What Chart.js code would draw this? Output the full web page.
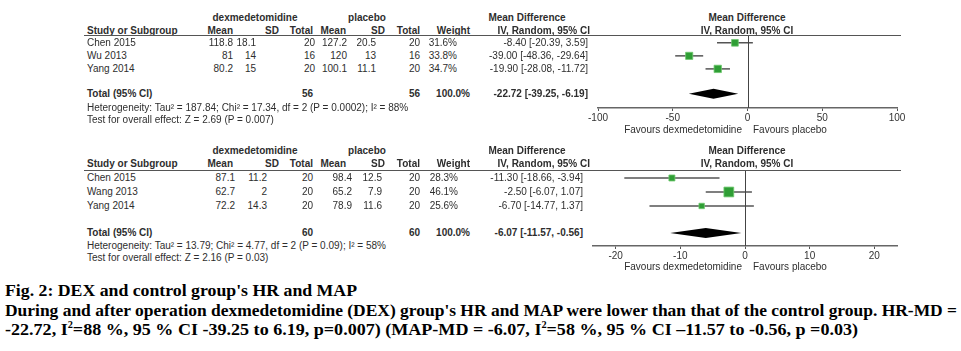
<!DOCTYPE html>
<html>
<head>
<meta charset="utf-8">
<script src="https://cdn.jsdelivr.net/npm/chart.js@4.4.1/dist/chart.umd.min.js"></script>
<style>
body{margin:0;background:#fff;width:961px;height:351px;position:relative;overflow:hidden;font-family:"Liberation Sans",Arial,sans-serif;color:#2e2e2e}
.t{position:absolute;font-size:10px;line-height:12px;white-space:nowrap}
.b{font-weight:bold}
.rule{position:absolute;height:1px;background:#555}
.cap{position:absolute;left:5px;font-family:"Liberation Serif","Times New Roman",serif;font-weight:bold;font-size:17.5px;line-height:18px;color:#000;white-space:nowrap;transform-origin:0 50%}
canvas{position:absolute}
</style>
</head>
<body>
<canvas id="hr" width="325" height="100"></canvas>
<canvas id="map" width="325" height="100"></canvas>
<div class="cap" id="c1">Fig. 2: DEX and control group's HR and MAP</div>
<div class="cap" id="c2">During and after operation dexmedetomidine (DEX) group's HR and MAP were lower than that of the control group. HR-MD =</div>
<div class="cap" id="c3">-22.72, I<sup style="font-size:10px;line-height:0">2</sup>=88 %, 95 % CI -39.25 to 6.19, p=0.007) (MAP-MD = -6.07, I<sup style="font-size:10px;line-height:0">2</sup>=58 %, 95 % CI –11.57 to -0.56, p =0.03)</div>
<script>
// heart rate
const hrStudies = ["Chen 2015", "Wu 2013", "Yang 2014"]
const hrDexMean = ["118.8", "81", "80.2"]
const hrDexSD = ["18.1", "14", "15"]
const hrDexN = [20, 16, 20]
const hrPlMean = ["127.2", "120", "100.1"]
const hrPlSD = ["20.5", "13", "11.1"]
const hrPlN = [20, 16, 20]
const hrWeight = [31.6, 33.8, 34.7]
const hrMD = [-8.40, -39.00, -19.90]
const hrLo = [-20.39, -48.36, -28.08]
const hrHi = [3.59, -29.64, -11.72]
const hrTotal = [-22.72, -39.25, -6.19]
const hrTotalN = [56, 56]
const hrTicks = [-100, -50, 0, 50, 100]
const hrHet = "Heterogeneity: Tau² = 187.84; Chi² = 17.34, df = 2 (P = 0.0002); I² = 88%"
const hrTest = "Test for overall effect: Z = 2.69 (P = 0.007)"

// mean arterial pressure
const mapStudies = ["Chen 2015", "Wang 2013", "Yang 2014"]
const mapDexMean = ["87.1", "62.7", "72.2"]
const mapDexSD = ["11.2", "2", "14.3"]
const mapDexN = [20, 20, 20]
const mapPlMean = ["98.4", "65.2", "78.9"]
const mapPlSD = ["12.5", "7.9", "11.6"]
const mapPlN = [20, 20, 20]
const mapWeight = [28.3, 46.1, 25.6]
const mapMD = [-11.30, -2.50, -6.70]
const mapLo = [-18.66, -6.07, -14.77]
const mapHi = [-3.94, 1.07, 1.37]
const mapTotal = [-6.07, -11.57, -0.56]
const mapTotalN = [60, 60]
const mapTicks = [-20, -10, 0, 10, 20]
const mapHet = "Heterogeneity: Tau² = 13.79; Chi² = 4.77, df = 2 (P = 0.09); I² = 58%"
const mapTest = "Test for overall effect: Z = 2.16 (P = 0.03)"

function txt(s, x, y, align, bold){
    const d = document.createElement("div")
    d.className = "t" + (bold ? " b" : "")
    d.textContent = s
    d.style.left = x + "px"
    d.style.top = y + "px"
    const tx = align === "right" ? "-100%" : align === "center" ? "-50%" : "0"
    d.style.transform = `translate(${tx},-50%)`
    document.body.appendChild(d)
}

function ci(m, lo, hi){
    return `${m.toFixed(2)} [${lo.toFixed(2)}, ${hi.toFixed(2)}]`
}

function panel(id, d, L){
    const cv = document.getElementById(id)
    cv.style.left = L.left + "px"
    cv.style.top = L.top + "px"

    // CI whiskers, zero line and pooled diamond
    const marks = {
        id: "marks",
        beforeDatasetsDraw(chart){
            const {ctx, chartArea, scales: {x, y}} = chart
            ctx.save()
            ctx.strokeStyle = "#555"
            ctx.lineWidth = 1.5
            d.lo.forEach((lo, i) => {
                const py = y.getPixelForValue(i)
                ctx.beginPath()
                ctx.moveTo(x.getPixelForValue(lo), py)
                ctx.lineTo(x.getPixelForValue(d.hi[i]), py)
                ctx.stroke()
            })
            const x0 = Math.round(x.getPixelForValue(0)) + 0.5
            ctx.strokeStyle = "#444"
            ctx.lineWidth = 1
            ctx.beginPath()
            ctx.moveTo(x0, chartArea.top)
            ctx.lineTo(x0, chartArea.bottom)
            ctx.stroke()
            const [m, lo, hi] = d.total
            const dy = y.getPixelForValue(L.totalRow)
            ctx.fillStyle = "#000"
            ctx.beginPath()
            ctx.moveTo(x.getPixelForValue(lo), dy)
            ctx.lineTo(x.getPixelForValue(m), dy - 5)
            ctx.lineTo(x.getPixelForValue(hi), dy)
            ctx.lineTo(x.getPixelForValue(m), dy + 5)
            ctx.closePath()
            ctx.fill()
            ctx.restore()
        }
    }

    const chart = new Chart(cv, {
        type: "scatter",
        data: {
            datasets: [{
                data: d.md.map((v, i) => ({x: v, y: i})),
                pointStyle: "rect",
                pointRadius: d.weight.map(w => w * 0.15),
                backgroundColor: "#2f9e35",
                borderColor: "rgba(110,200,110,0.8)",
                borderWidth: 1
            }]
        },
        options: {
            responsive: false,
            animation: false,
            devicePixelRatio: 1,
            layout: {autoPadding: false, padding: {left: L.padLeft, right: L.padRight, top: 0, bottom: 0}},
            plugins: {legend: {display: false}, tooltip: {enabled: false}},
            scales: {
                x: {
                    type: "linear",
                    min: L.xMin,
                    max: L.xMax,
                    afterBuildTicks: s => { s.ticks = d.ticks.map(v => ({value: v})) },
                    afterFit: s => { s.height = L.axisH },
                    grid: {drawOnChartArea: false, drawTicks: true, tickLength: 3, color: "#555"},
                    border: {display: true, color: "#666", width: 1.5},
                    ticks: {padding: 1, color: "#333", font: {family: "Liberation Sans", size: 10}, maxRotation: 0, autoSkip: false}
                },
                y: {type: "linear", display: false, reverse: true, min: L.yMin, max: L.yMax}
            }
        },
        plugins: [marks]
    })

    const rowY = i => L.top + chart.scales.y.getPixelForValue(i)
    const C = L.cols

    // header
    txt("dexmedetomidine", 255, L.h1, "center", true)
    txt("placebo", 367, L.h1, "center", true)
    txt("Mean Difference", 527, L.h1, "center", true)
    txt("Mean Difference", 747, L.h1, "center", true)
    txt("Study or Subgroup", 87, L.h2, "left", true)
    txt("Mean", 233, L.h2, "right", true)
    txt("SD", 279, L.h2, "right", true)
    txt("Total", 313, L.h2, "right", true)
    txt("Mean", 346, L.h2, "right", true)
    txt("SD", 385, L.h2, "right", true)
    txt("Total", 420, L.h2, "right", true)
    txt("Weight", 470, L.h2, "right", true)
    txt("IV, Random, 95% CI", 590, L.h2, "right", true)
    txt("IV, Random, 95% CI", 747, L.h2, "center", true)
    const rule = document.createElement("div")
    rule.className = "rule"
    rule.style.left = "84px"
    rule.style.width = "817px"
    rule.style.top = L.top + "px"
    document.body.appendChild(rule)

    d.studies.forEach((s, i) => {
        const y = rowY(i)
        txt(s, 87, y, "left")
        txt(d.dexMean[i], C[0], y, "right")
        txt(d.dexSD[i], C[1], y, "right")
        txt(String(d.dexN[i]), C[2], y, "right")
        txt(d.plMean[i], C[3], y, "right")
        txt(d.plSD[i], C[4], y, "right")
        txt(String(d.plN[i]), C[5], y, "right")
        txt(d.weight[i].toFixed(1) + "%", C[6], y, "right")
        txt(ci(d.md[i], d.lo[i], d.hi[i]), C[7], y, "right")
    })
    const ty = rowY(L.totalRow)
    txt("Total (95% CI)", 87, ty, "left", true)
    txt(String(d.totalN[0]), 313, ty, "right", true)
    txt(String(d.totalN[1]), 420, ty, "right", true)
    txt("100.0%", 470, ty, "right", true)
    txt(ci(d.total[0], d.total[1], d.total[2]), C[7], ty, "right", true)
    txt(d.het, 87, L.het, "left")
    txt(d.test, 87, L.test, "left")

    txt("Favours dexmedetomidine", 742, L.fav, "right")
    txt("Favours placebo", 753, L.fav, "left")
}

panel("hr", {
    studies: hrStudies, dexMean: hrDexMean, dexSD: hrDexSD, dexN: hrDexN,
    plMean: hrPlMean, plSD: hrPlSD, plN: hrPlN, weight: hrWeight,
    md: hrMD, lo: hrLo, hi: hrHi, total: hrTotal, totalN: hrTotalN,
    ticks: hrTicks, het: hrHet, test: hrTest
}, {
    left: 585, top: 35, padLeft: 13, padRight: 13, axisH: 27,
    xMin: -100, xMax: 100, yMin: -0.6, yMax: 5, totalRow: 3.9,
    h1: 18, h2: 30.5, het: 108, test: 120, fav: 130,
    cols: [233, 256, 315, 347, 376, 420, 457, 588]
})

panel("map", {
    studies: mapStudies, dexMean: mapDexMean, dexSD: mapDexSD, dexN: mapDexN,
    plMean: mapPlMean, plSD: mapPlSD, plN: mapPlN, weight: mapWeight,
    md: mapMD, lo: mapLo, hi: mapHi, total: mapTotal, totalN: mapTotalN,
    ticks: mapTicks, het: mapHet, test: mapTest
}, {
    left: 585, top: 170, padLeft: 8, padRight: 13, axisH: 24,
    xMin: -23.5, xMax: 23.5, yMin: -0.57, yMax: 4.86, totalRow: 3.93,
    h1: 151, h2: 164, het: 245.5, test: 257.5, fav: 267,
    cols: [235, 267, 313, 352, 382, 420, 458, 583]
})

// fit caption lines to the reference widths
const capLines = [["c1", 290, 352], ["c2", 310, 952], ["c3", 329, 853]]
capLines.forEach(([id, y, w]) => {
    const el = document.getElementById(id)
    el.style.top = (y - 9) + "px"
    el.style.transform = `scaleX(${w / el.getBoundingClientRect().width})`
})
</script>
</body>
</html>
